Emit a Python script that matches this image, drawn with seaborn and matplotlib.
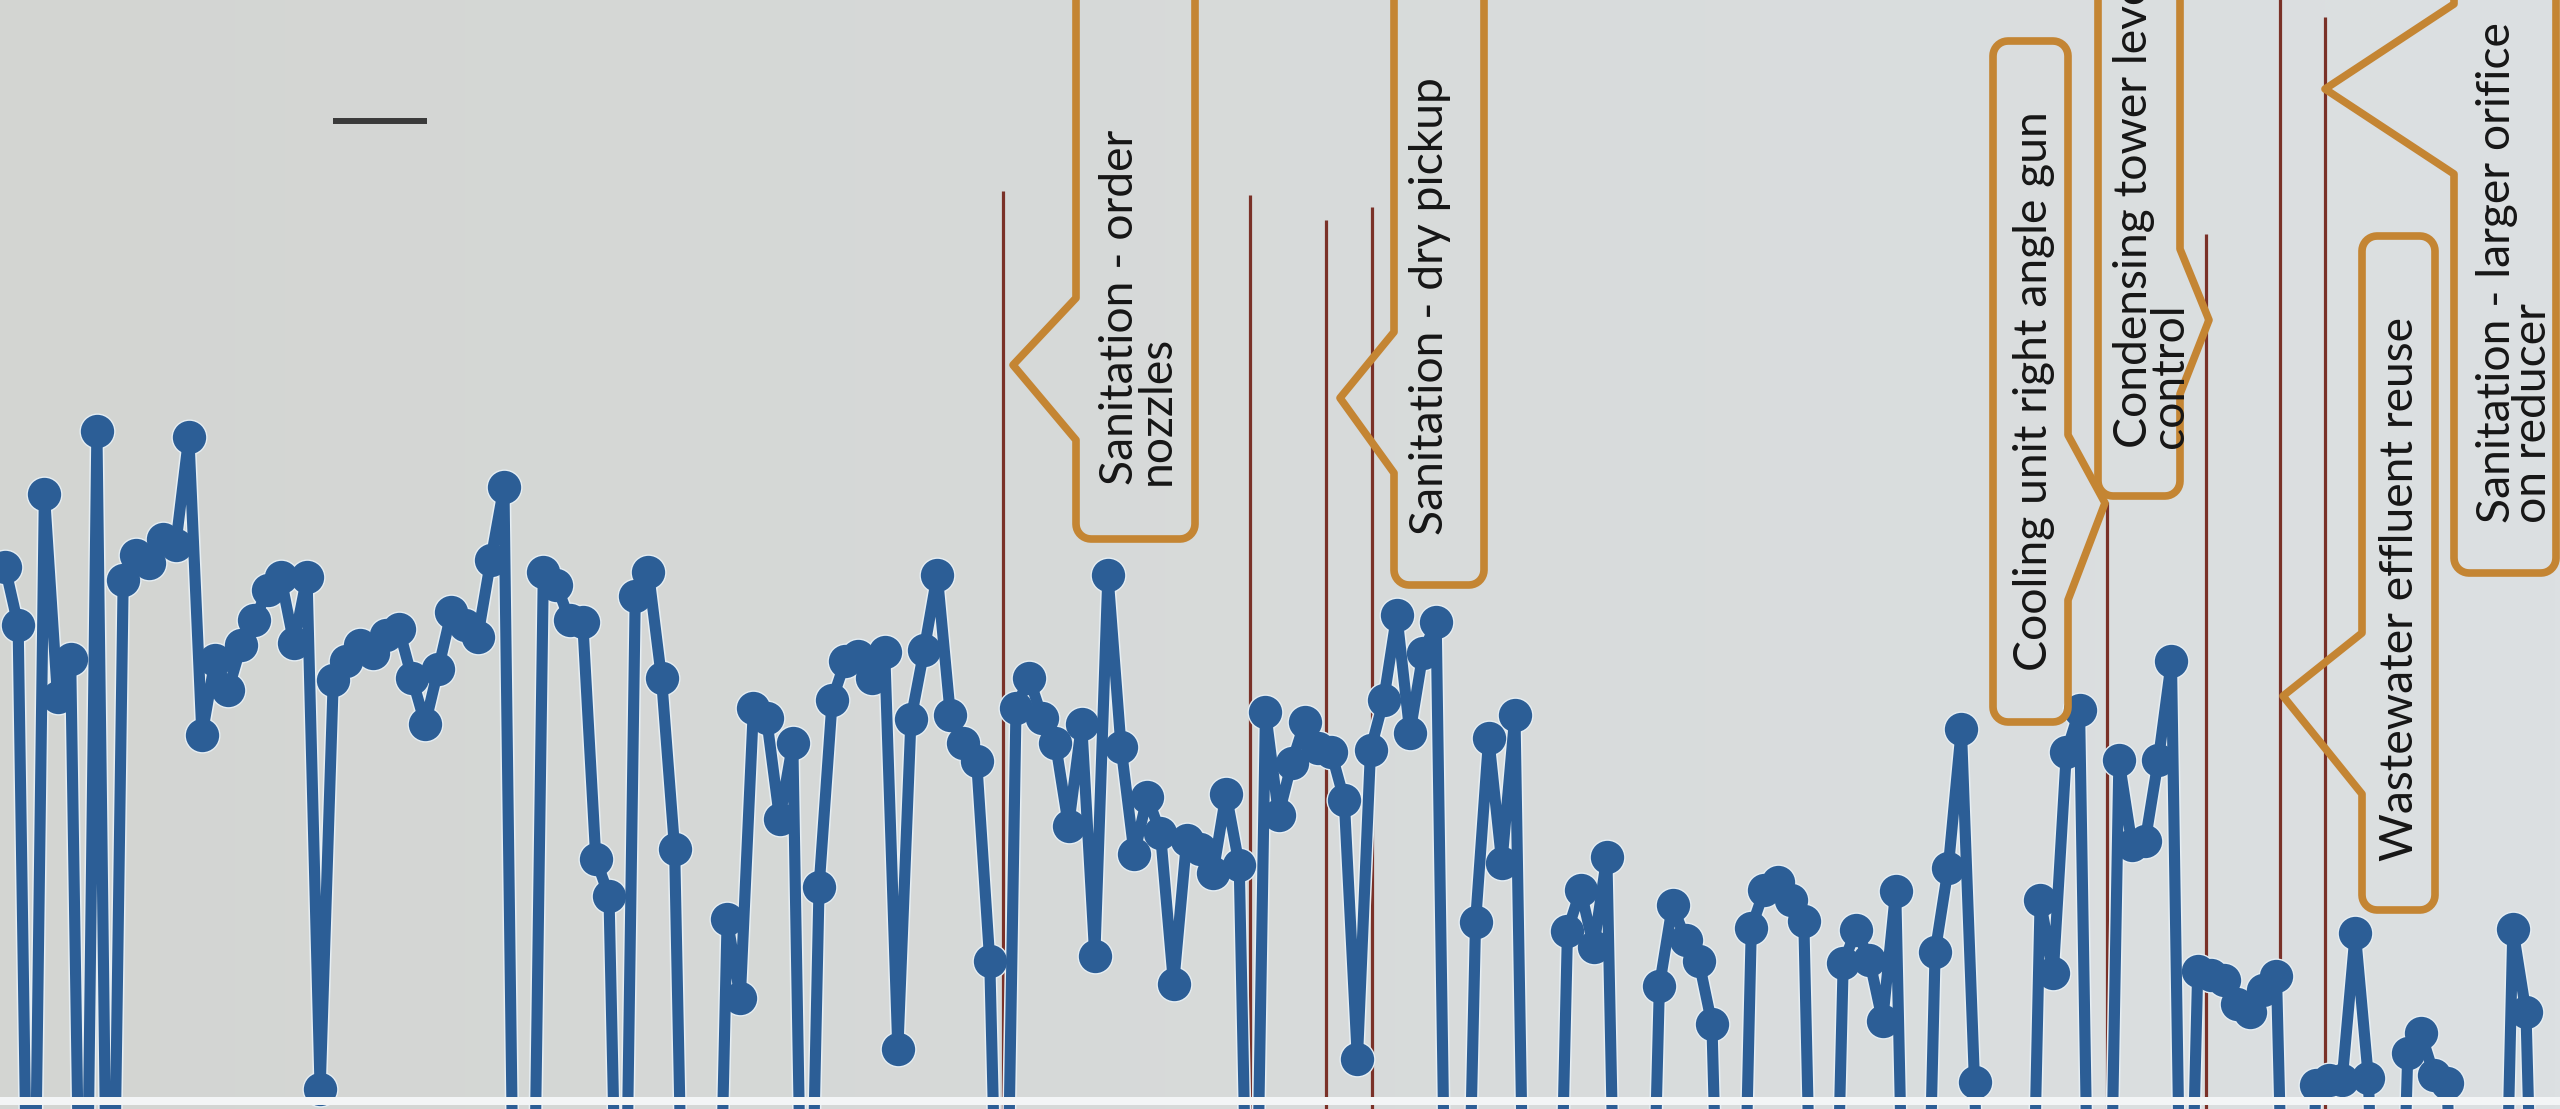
import numpy as np
import pandas as pd
import matplotlib
matplotlib.use("Agg")
import matplotlib.pyplot as plt
from matplotlib.patches import Polygon, Rectangle
import seaborn as sns

# ---------------- data (daily usage, one value per day; 0 = no usage) ----------------
usage = [
    # days 0-24
    93.3, 87.5, 0, 100.6, 80.3, 84.1, 0, 106.9, 0, 92.0,
    94.5, 93.7, 96.1, 95.5, 106.3, 76.5, 84.0, 81.0, 85.5, 88.0,
    91.0, 92.3, 85.7, 92.3, 41.1,
    # days 25-38
    82.0, 83.9, 85.5, 84.7, 86.5, 87.1, 82.2, 77.6, 83.1, 88.8, 87.5, 86.3, 94.0, 101.3,
    # days 39-86
    0, 0, 92.8, 91.5, 88.0, 87.8, 64.1, 60.4, 0, 90.4,
    92.8, 82.2, 65.1, 0, 0, 0, 58.1, 50.2, 79.2, 78.2,
    68.1, 75.7, 0, 61.3, 80.0, 83.9, 84.4, 82.2, 84.8, 45.1,
    78.1, 85.0, 92.5, 78.5, 75.7, 73.9, 53.9, 0, 79.2, 82.2,
    78.2, 75.7, 67.4, 77.6, 54.4, 92.5, 75.3, 64.6,
    # days 87-109
    70.3, 66.7, 51.6,
    66.0, 65.1, 62.7, 70.6, 63.5, 0, 78.8, 68.5, 73.7, 77.8,
    75.2, 74.8, 70.0, 44.1, 75.0, 80.0, 88.5, 76.7, 84.7, 87.8,
    # days 110-119
    0, 0, 57.8, 76.2, 63.7, 78.5, 0, 0, 0, 56.9,
    # days 120-148
    61.0,
    55.3, 64.3, 0, 0, 0, 51.4, 59.5, 56.0, 53.9, 47.6,
    0, 0, 57.2, 61.0, 61.8, 60.0, 57.9, 0, 0, 53.7,
    57.0, 54.0, 47.9, 60.9, 0, 0, 54.8, 63.2,
    # days 149-194
    77.1, 41.8, 0, 0, 0, 0, 60.0, 52.7, 74.8, 79.0,
    0, 0, 74.0, 65.5, 65.9, 74.0, 83.9, 0, 52.9, 52.5,
    52.0, 49.6, 48.8, 51.0, 52.4, 0, 0, 41.5, 42.0, 42.0,
    56.7, 42.2, 0, 0, 44.7, 46.7, 42.5, 41.7, 0, 0,
    0, 0, 57.1, 48.8, 0, 0,
]
days = list(range(len(usage)))

# conservation measures (day on which each was introduced)
event_days = [76.0, 94.8, 100.6, 104.1, 160.1, 167.6, 173.3, 176.7]
event_tops = [130.9, 130.5, 128.0, 129.3, 99.8, 126.6, 151.0, 148.3]

callout_labels = [
    "Sanitation - order\nnozzles",
    "Sanitation - dry pickup",
    "Cooling unit right angle gun",
    "Condensing tower level\ncontrol",
    "Wastewater effluent reuse",
    "Sanitation - larger orifice\non reducer",
]

# ---------------- style ----------------
W, H = 2560, 1109
BLUE = "#2c5e96"
HALO = "#e6eef3"
RED = "#7a3128"
ORANGE = "#c48533"
X0, DX = 5.0, 13.13            # pixel of day 0 and pixel per day
Y_ZERO, DY = 1500.0, 10.0      # pixel of value 0 and pixel per unit

sns.set_theme(style="white")
plt.rcParams["font.family"] = ["Lato", "DejaVu Sans"]

fig = plt.figure(figsize=(W / 100, H / 100), dpi=100)

# background paper tint
ax_bg = fig.add_axes([0, 0, 1, 1])
c_left = np.array([211, 213, 210]) / 255
c_right = np.array([220, 224, 226]) / 255
t = np.linspace(0, 1, 512)
grad = (c_left[None, :] * (1 - t[:, None]) + c_right[None, :] * t[:, None])[None, :, :]
ax_bg.imshow(grad, extent=[0, 1, 0, 1], aspect="auto")
ax_bg.set_xlim(0, 1)
ax_bg.set_ylim(0, 1)
ax_bg.axis("off")

# data axes
ax = fig.add_axes([0, 0, 1, 1], facecolor="none")
df = pd.DataFrame({"day": days, "usage": usage})
ax.vlines(event_days, 0, event_tops, colors=RED, linewidth=2.3, zorder=1.5)
sns.lineplot(data=df, x="day", y="usage", ax=ax, color=HALO, linewidth=10.2,
             marker="o", markersize=26, markeredgewidth=0, estimator=None,
             sort=False, zorder=2)
sns.lineplot(data=df, x="day", y="usage", ax=ax, color=BLUE, linewidth=8,
             marker="o", markersize=24, markeredgewidth=0, estimator=None,
             sort=False, zorder=3)
ax.set_xlim(-X0 / DX, (W - X0) / DX)
ax.set_ylim((Y_ZERO - H) / DY, Y_ZERO / DY)
ax.axis("off")
if ax.get_legend() is not None:
    ax.get_legend().remove()

# overlay in pixel coordinates for callouts
ov = fig.add_axes([0, 0, 1, 1], facecolor="none")
ov.set_xlim(0, W)
ov.set_ylim(H, 0)
ov.axis("off")


def callout(L, R, T, B, side, ya, yb, tip, r=15):
    def arc(cx, cy, a0, a1):
        a = np.radians(np.linspace(a0, a1, 10))
        return list(zip(cx + r * np.cos(a), cy + r * np.sin(a)))
    pts = []
    pts += arc(L + r, T + r, 180, 270)
    pts += arc(R - r, T + r, 270, 360)
    if side == "right":
        pts += [(R, ya), tip, (R, yb)]
    pts += arc(R - r, B - r, 0, 90)
    pts += arc(L + r, B - r, 90, 180)
    if side == "left":
        pts += [(L, yb), tip, (L, ya)]
    ov.add_patch(Polygon(pts, closed=True, fill=False, edgecolor=ORANGE,
                         linewidth=5.5, joinstyle="round", zorder=6))


boxes = [
    dict(L=1076, R=1195, T=-80, B=539, side="left", ya=298, yb=440, tip=(1013, 365), tx=1138, ty=485),
    dict(L=1394, R=1484, T=-80, B=585, side="left", ya=332, yb=473, tip=(1340, 398), tx=1430, ty=535),
    dict(L=1993, R=2068, T=41, B=722, side="right", ya=435, yb=600, tip=(2105, 503), tx=2034, ty=671),
    dict(L=2098, R=2180, T=-80, B=496, side="right", ya=249, yb=394, tip=(2209, 320), tx=2152, ty=448),
    dict(L=2362, R=2435, T=236, B=910, side="left", ya=633, yb=794, tip=(2283, 696), tx=2400, ty=861),
    dict(L=2454, R=2556, T=-80, B=573, side="left", ya=4, yb=174, tip=(2325, 89), tx=2515, ty=523),
]

# calibrate font size so that the label length matches the print
fig.canvas.draw()
renderer = fig.canvas.get_renderer()
probe = ov.text(0, 0, "Cooling unit right angle gun", fontsize=30, rotation=90)
ext = probe.get_window_extent(renderer)
probe.remove()
fs = 30 * 559.0 / ext.height

for b, lab in zip(boxes, callout_labels):
    callout(b["L"], b["R"], b["T"], b["B"], b["side"], b["ya"], b["yb"], b["tip"])
    ov.text(b["tx"], b["ty"], lab, rotation=90, rotation_mode="anchor",
            ha="left", va="center", multialignment="left", fontsize=fs,
            linespacing=0.85, color="#161616", zorder=7)

# stray legend dash
ov.plot([333, 427], [121, 121], color="#3a3a3a", linewidth=4.3,
        solid_capstyle="butt", zorder=6)
# white fold line near the bottom edge
ov.add_patch(Rectangle((0, 1097), W, 8, facecolor="#f3f5f6", edgecolor="none", zorder=8))

fig.savefig("out.png", dpi=100)
